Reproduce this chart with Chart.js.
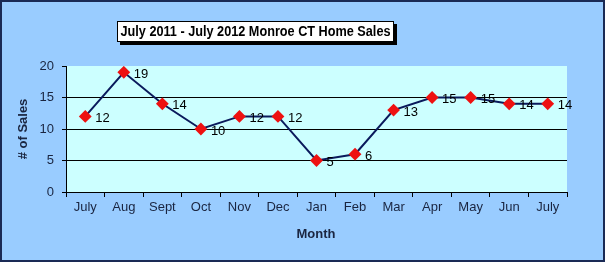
<!DOCTYPE html>
<html>
<head>
<meta charset="utf-8">
<script src="https://cdn.jsdelivr.net/npm/chart.js@4"></script>
<style>
  html, body { margin: 0; padding: 0; background: #99ccff; }
  #wrap { width: 605px; height: 262px; }
</style>
</head>
<body>
<div id="wrap"><canvas id="chart" width="605" height="262"></canvas></div>
<script>
const months = ["July", "Aug", "Sept", "Oct", "Nov", "Dec", "Jan", "Feb", "Mar", "Apr", "May", "Jun", "July"]
const sales  = [12, 19, 14, 10, 12, 12, 5, 6, 13, 15, 15, 14, 14]
const yTicks = [0, 5, 10, 15, 20]

const chartTitle = "July 2011 - July 2012 Monroe CT Home Sales"
const xTitle = "Month"
const yTitle = "# of Sales"

const FONT = "Arial, 'Liberation Sans', sans-serif"

// Excel-ish frame: blue page, cyan plot area, boxed title, axis titles,
// and the value labels sitting just right of each marker.
const excelFrame = {
  id: "excelFrame",
  beforeDraw(chart) {
    const { ctx, chartArea: a, width, height } = chart
    ctx.save()
    ctx.fillStyle = "#99ccff"
    ctx.fillRect(0, 0, width, height)
    ctx.strokeStyle = "#1a2a55"
    ctx.lineWidth = 2
    ctx.strokeRect(1, 1, width - 2, height - 2)
    ctx.fillStyle = "#ccffff"
    ctx.fillRect(a.left, a.top, a.right - a.left, a.bottom - a.top)
    ctx.restore()
  },
  afterDraw(chart) {
    const { ctx, chartArea: a } = chart
    ctx.save()

    // title box with drop shadow
    const bx = 117, by = 21, bw = 277, bh = 21
    ctx.fillStyle = "#000"
    ctx.fillRect(bx + 3, by + 3, bw, bh)
    ctx.fillStyle = "#fff"
    ctx.fillRect(bx, by, bw, bh)
    ctx.strokeStyle = "#000"
    ctx.lineWidth = 1
    ctx.strokeRect(bx + 0.5, by + 0.5, bw - 1, bh - 1)
    // the original title face is a narrow bold; squeeze a normal bold to fit
    ctx.fillStyle = "#000"
    ctx.font = "bold 14px " + FONT
    ctx.textAlign = "center"
    ctx.textBaseline = "middle"
    const tw = ctx.measureText(chartTitle).width
    const sx = Math.min(1, 270 / tw)
    ctx.save()
    ctx.translate(bx + bw / 2, by + bh / 2 + 1)
    ctx.scale(sx, 1)
    ctx.fillText(chartTitle, 0, 0)
    ctx.restore()

    // axis titles
    ctx.fillStyle = "#1a2540"
    ctx.font = "bold 13px " + FONT
    ctx.fillText(xTitle, 316, 234)
    ctx.translate(23, (a.top + a.bottom) / 2)
    ctx.rotate(-Math.PI / 2)
    ctx.fillText(yTitle, 0, 0)
    ctx.restore()

    // value labels
    ctx.save()
    ctx.fillStyle = "#000"
    ctx.font = "13px " + FONT
    ctx.textAlign = "left"
    ctx.textBaseline = "middle"
    const meta = chart.getDatasetMeta(0)
    meta.data.forEach((pt, i) => {
      ctx.fillText(String(sales[i]), pt.x + 10, pt.y + 2)
    })
    ctx.restore()
  }
}

new Chart(document.getElementById("chart"), {
  type: "line",
  data: {
    labels: months,
    datasets: [{
      data: sales,
      borderColor: "#0a1a5c",
      borderWidth: 2,
      pointStyle: "rectRot",
      pointRadius: 5,
      pointBackgroundColor: "#ee1111",
      pointBorderColor: "#ee1111",
      tension: 0,
    }]
  },
  options: {
    responsive: false,
    animation: false,
    events: [],
    layout: { padding: { top: 66, right: 38, left: 0, bottom: 0 } },
    plugins: {
      legend: { display: false },
      tooltip: { enabled: false },
    },
    scales: {
      x: {
        offset: true,
        afterFit(s) { s.height = 70 },
        border: { color: "#000", width: 1 },
        grid: {
          offset: true,
          drawOnChartArea: false,
          tickColor: "#000",
          tickLength: 5,
        },
        ticks: {
          color: "#1a2540",
          padding: 3,
          maxRotation: 0,
          autoSkip: false,
          font: { family: FONT, size: 13 },
        },
      },
      y: {
        min: yTicks[0],
        max: yTicks[yTicks.length - 1],
        afterFit(s) { s.width = 66 },
        afterBuildTicks(s) { s.ticks = yTicks.map((v) => ({ value: v })) },
        border: { color: "#000", width: 1 },
        grid: {
          color: (c) => (c.tick && c.tick.value === 20 ? "rgba(0,0,0,0)" : "#000"),
          tickColor: "#000",
          tickLength: 4,
        },
        ticks: {
          color: "#1a2540",
          padding: 8,
          font: { family: FONT, size: 13 },
        },
      },
    },
  },
  plugins: [excelFrame],
})
</script>
</body>
</html>
